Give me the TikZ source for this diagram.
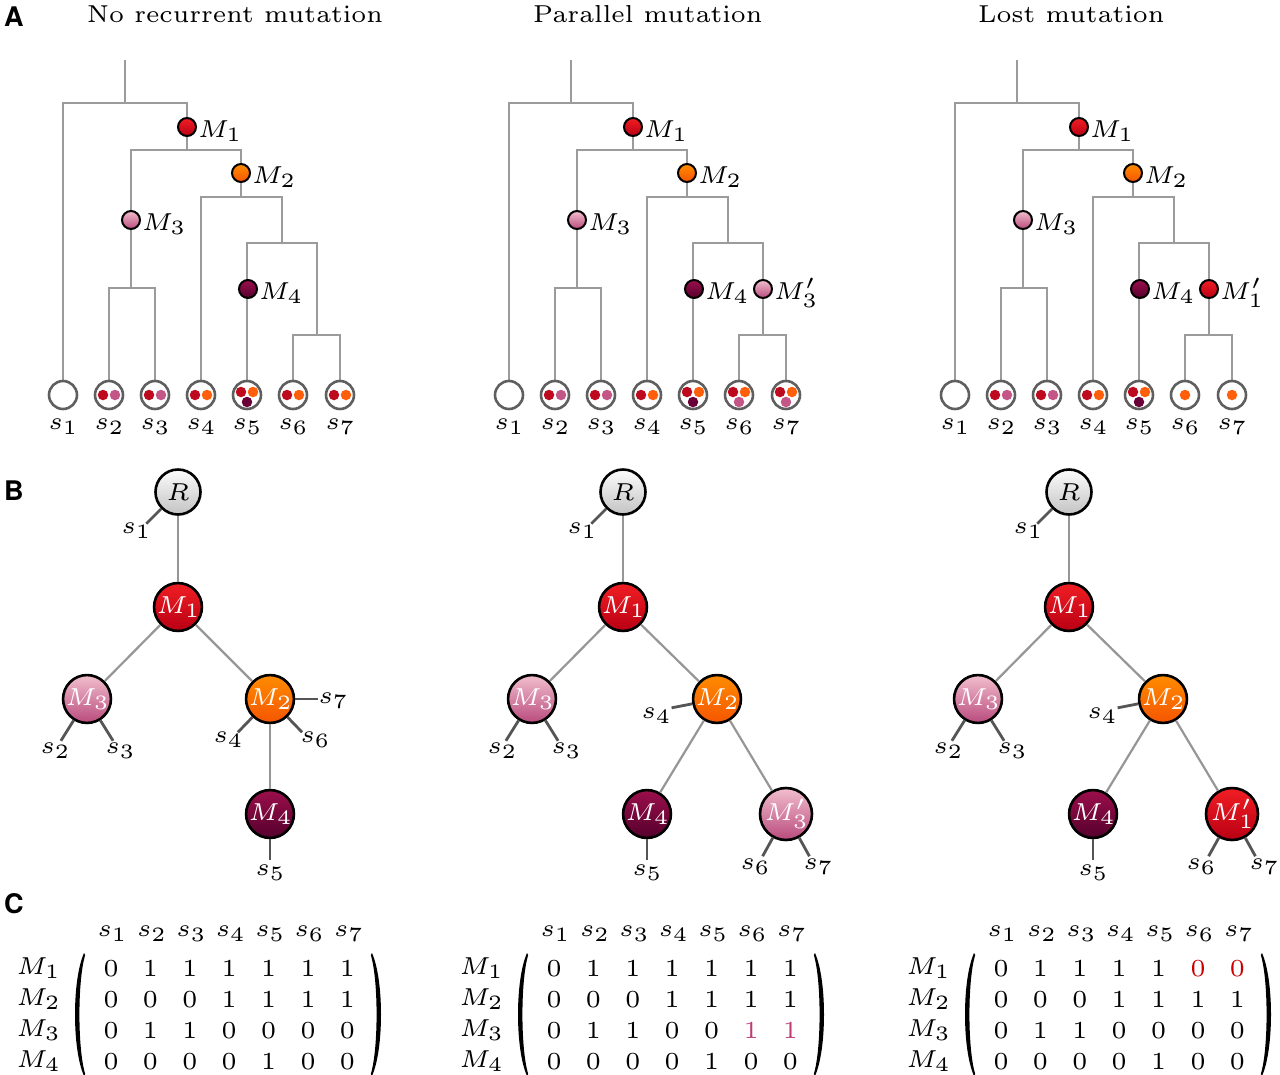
\documentclass[tikz,border=0pt]{standalone}
\usepackage[no-math]{fontspec}
\usepackage{amsmath}
\newfontfamily\lblfont{TeX Gyre Heros}
\DeclareFontFamily{OML}{xcmm}{\skewchar\font127 }
\DeclareFontShape{OML}{xcmm}{m}{it}{<-22>cmmi5 <22->cmmi6}{}
\DeclareFontFamily{OT1}{xcmr}{\hyphenchar\font45 }
\DeclareFontShape{OT1}{xcmr}{m}{n}{<-22>cmr5 <22->cmr6}{}
\DeclareFontFamily{OMS}{xcmsy}{\skewchar\font48 }
\DeclareFontShape{OMS}{xcmsy}{m}{n}{<-22>cmsy5 <22->cmsy6}{}
\DeclareSymbolFont{letters}{OML}{xcmm}{m}{it}
\DeclareSymbolFont{operators}{OT1}{xcmr}{m}{n}
\DeclareSymbolFont{symbols}{OMS}{xcmsy}{m}{n}
\DeclareMathSizes{24.5}{24.5}{20.4}{20.4}
\newcommand{\ttlfont}{\fontencoding{OT1}\fontfamily{xcmr}\fontsize{24.5}{29}\selectfont}
\usetikzlibrary{backgrounds}
\definecolor{tgray}{RGB}{155,155,155}
\definecolor{lgray}{RGB}{95,95,95}
\definecolor{egray}{RGB}{150,150,150}
\definecolor{dgray}{RGB}{85,85,85}
\definecolor{dRed}{RGB}{190,10,30}
\definecolor{dOrange}{RGB}{255,95,10}
\definecolor{dPink}{RGB}{195,85,135}
\definecolor{dMaroon}{RGB}{105,0,55}
\definecolor{mPink}{RGB}{190,60,120}
\definecolor{mRed}{RGB}{200,0,0}
\tikzset{
  every node/.style={font=\fontsize{24.5}{29}\selectfont, inner sep=0pt},
  tl/.style={draw=tgray, line width=2.4pt},
  leaf/.style={circle, draw=lgray, line width=2.6pt, fill=white, minimum size=28pt},
  sd/.style={circle, fill=#1, minimum size=10.5pt},
  md/.style={circle, draw=black, line width=2pt, minimum size=18pt},
  mlab/.style={anchor=west, xshift=1pt, yshift=-4pt},
  bn/.style={circle, draw=black, line width=2.6pt, minimum size=45pt, text=white},
  bedge/.style={draw=egray, line width=2.2pt},
  bleaf/.style={draw=dgray, line width=2.8pt},
  fRed/.style={top color={rgb,255:red,240;green,30;blue,35}, bottom color={rgb,255:red,185;green,0;blue,20}},
  fOrange/.style={top color={rgb,255:red,255;green,140;blue,0}, bottom color={rgb,255:red,245;green,85;blue,0}},
  fPink/.style={top color={rgb,255:red,242;green,190;blue,205}, bottom color={rgb,255:red,185;green,75;blue,125}},
  fMaroon/.style={top color={rgb,255:red,155;green,15;blue,75}, bottom color={rgb,255:red,85;green,0;blue,45}},
  fGray/.style={top color={rgb,255:red,252;green,252;blue,252}, bottom color={rgb,255:red,195;green,195;blue,195}},
  title/.style={anchor=base west, font=\ttlfont},
  plabel/.style={anchor=base west, font=\lblfont\bfseries\fontsize{27}{32}\selectfont},
  paren/.style={fill=black},
}
% tree of panel A: #1 x offset, #2 name prefix
\newcommand{\treeA}[2]{%
\begin{scope}[xshift=#1]
\foreach \i/\x in {1/63,2/109,3/155,4/201,5/247,6/293,7/340}{
  \node[leaf] (#2L\i) at (\x,-395) {};
  \node (#2s\i) at (\x,-426.5) {$s_{\i}$};
}
\node[md,fRed] (#2M1) at (187,-127) {};
\node[mlab] (#2t1) at (#2M1.east) {$M_1$};
\node[md,fOrange] (#2M2) at (241,-173) {};
\node[mlab] (#2t2) at (#2M2.east) {$M_2$};
\node[md,fPink] (#2M3) at (131,-220) {};
\node[mlab] (#2t3) at (#2M3.east) {$M_3$};
\node[md,fMaroon] (#2M4) at (248,-289) {};
\node[mlab] (#2t4) at (#2M4.east) {$M_4$};
\coordinate (#2top) at (125,-60);
\coordinate (#2j0) at (125,-103);
\begin{pgfonlayer}{background}
\draw[tl] (#2top) -- (#2j0);
\draw[tl] (#2L1.center) |- (187,-103) -- (187,-150);
\draw[tl] (#2L2.center) |- (155,-288) -- (#2L3.center);
\draw[tl] (131,-288) |- (241,-150) -- (241,-197);
\draw[tl] (#2L4.center) |- (282,-197) -- (282,-243);
\draw[tl] (#2L5.center) |- (317,-243) -- (317,-335);
\draw[tl] (#2L6.center) |- (340,-335) -- (#2L7.center);
\end{pgfonlayer}
\end{scope}}
\newcommand{\oned}[2]{\node[sd=#2] (#1-a) at (#1.center) {};}
\newcommand{\twod}[3]{\node[sd=#2] (#1-a) at ([xshift=-6pt]#1.center) {};\node[sd=#3] (#1-b) at ([xshift=6pt]#1.center) {};}
\newcommand{\thrd}[4]{\node[sd=#2] (#1-a) at ([xshift=-6pt,yshift=3pt]#1.center) {};\node[sd=#3] (#1-b) at ([xshift=6pt,yshift=3pt]#1.center) {};\node[sd=#4] (#1-c) at ([yshift=-7pt]#1.center) {};}
% matrix row: #1 offset, #2 prefix, #3 row, #4 entries
\newcommand{\mrow}[4]{%
\node (#2r#3) at (#1+38,{-968-31*(#3-1)}) {$M_{#3}$};
\foreach \v [count=\j] in {#4} {\node (#2e#3\j) at ({#1+111+39.4*(\j-1)},{-969-31*(#3-1)}) {$\v$};}}
% header and parentheses drawn as filled crescents
\newcommand{\mhead}[2]{%
\foreach \j in {1,...,7} {\node (#2h\j) at ({#1+112+39.4*(\j-1)},-934) {$s_{\j}$};}
\begin{scope}[xshift=#1]
\coordinate (#2lpt) at (84,-953);
\coordinate (#2lpb) at (84,-1076);
\fill[paren] (#2lpt) .. controls (72,-980) and (72,-1049) .. (#2lpb)
   -- (85.2,-1074) .. controls (77.5,-1049) and (77.5,-980) .. (85.2,-955) -- cycle;
\coordinate (#2rpt) at (372,-953);
\coordinate (#2rpb) at (372,-1076);
\fill[paren] (#2rpt) .. controls (384,-980) and (384,-1049) .. (#2rpb)
   -- (370.8,-1074) .. controls (378.5,-1049) and (378.5,-980) .. (370.8,-955) -- cycle;
\end{scope}}
\begin{document}
\begin{tikzpicture}[x=1pt,y=1pt]
\useasboundingbox (0,0) rectangle (1280,-1074);
% panel labels
\node[plabel] (lA) at (4,-26) {A};
\node[plabel] (lB) at (4,-500) {B};
\node[plabel] (lC) at (4,-913) {C};
% titles
\node[title] (tt1) at (87,-22) {No recurrent mutation};
\node[title] (tt2) at (533,-22) {Parallel mutation};
\node[title] (tt3) at (978,-22) {Lost mutation};
% ---------- A: trees
\treeA{0}{a}
\twod{aL2}{dRed}{dPink}\twod{aL3}{dRed}{dPink}\twod{aL4}{dRed}{dOrange}
\thrd{aL5}{dRed}{dOrange}{dMaroon}\twod{aL6}{dRed}{dOrange}\twod{aL7}{dRed}{dOrange}
\treeA{446}{b}
\node[md,fPink] (bM5) at (763,-289) {};
\node[mlab] (bt5) at (bM5.east) {$M_3'$};
\twod{bL2}{dRed}{dPink}\twod{bL3}{dRed}{dPink}\twod{bL4}{dRed}{dOrange}
\thrd{bL5}{dRed}{dOrange}{dMaroon}\thrd{bL6}{dRed}{dOrange}{dPink}\thrd{bL7}{dRed}{dOrange}{dPink}
\treeA{892}{c}
\node[md,fRed] (cM5) at (1209,-289) {};
\node[mlab] (ct5) at (cM5.east) {$M_1'$};
\twod{cL2}{dRed}{dPink}\twod{cL3}{dRed}{dPink}\twod{cL4}{dRed}{dOrange}
\thrd{cL5}{dRed}{dOrange}{dMaroon}\oned{cL6}{dOrange}\oned{cL7}{dOrange}
% ---------- B: mutation trees
% left
\node[bn,fGray,text=black] (pR) at (178,-492) {$R$};
\node[bn,fRed] (pM1) at (178,-607) {$M_1$};
\node[bn,fPink] (pM3) at (87,-699) {$M_3$};
\node[bn,fOrange] (pM2) at (270,-699) {$M_2$};
\node[bn,fMaroon] (pM4) at (270,-814) {$M_4$};
\draw[bedge] (pR) -- (pM1); \draw[bedge] (pM1) -- (pM3); \draw[bedge] (pM1) -- (pM2); \draw[bedge] (pM2) -- (pM4);
\node (ps1) at (136,-531) {$s_1$}; \draw[bleaf] (pR.225) -- ++(225:21);
\node (ps2) at (55,-751) {$s_2$}; \draw[bleaf] (pM3.238) -- ++(238:24);
\node (ps3) at (120,-751) {$s_3$}; \draw[bleaf] (pM3.302) -- ++(302:24);
\node (ps4) at (228,-740) {$s_4$}; \draw[bleaf] (pM2.226) -- ++(226:21);
\node (ps6) at (315,-740) {$s_6$}; \draw[bleaf] (pM2.314) -- ++(314:21);
\node (ps7) at (333,-701) {$s_7$}; \draw[bleaf] (pM2.0) -- ++(0:23);
\node (ps5) at (270,-873) {$s_5$}; \draw[bleaf] (pM4.270) -- ++(270:21);
% middle
\node[bn,fGray,text=black] (qR) at (623,-492) {$R$};
\node[bn,fRed] (qM1) at (623,-607) {$M_1$};
\node[bn,fPink] (qM3) at (532,-699) {$M_3$};
\node[bn,fOrange] (qM2) at (717,-699) {$M_2$};
\node[bn,fMaroon] (qM4) at (647,-814) {$M_4$};
\node[bn,fPink] (qM5) at (786,-814) {$M_3'$};
\draw[bedge] (qR) -- (qM1); \draw[bedge] (qM1) -- (qM3); \draw[bedge] (qM1) -- (qM2);
\draw[bedge] (qM2) -- (qM4); \draw[bedge] (qM2) -- (qM5);
\node (qs1) at (582,-531) {$s_1$}; \draw[bleaf] (qR.225) -- ++(225:21);
\node (qs2) at (502,-751) {$s_2$}; \draw[bleaf] (qM3.238) -- ++(238:24);
\node (qs3) at (566,-751) {$s_3$}; \draw[bleaf] (qM3.302) -- ++(302:24);
\node (qs4) at (656,-716) {$s_4$}; \draw[bleaf] (qM2.191) -- ++(191:21);
\node (qs5) at (647,-873) {$s_5$}; \draw[bleaf] (qM4.270) -- ++(270:21);
\node (qs6) at (755,-867) {$s_6$}; \draw[bleaf] (qM5.241) -- ++(241:21);
\node (qs7) at (818,-867) {$s_7$}; \draw[bleaf] (qM5.299) -- ++(299:21);
% right
\node[bn,fGray,text=black] (rR) at (1069,-492) {$R$};
\node[bn,fRed] (rM1) at (1069,-607) {$M_1$};
\node[bn,fPink] (rM3) at (978,-699) {$M_3$};
\node[bn,fOrange] (rM2) at (1163,-699) {$M_2$};
\node[bn,fMaroon] (rM4) at (1093,-814) {$M_4$};
\node[bn,fRed] (rM5) at (1232,-814) {$M_1'$};
\draw[bedge] (rR) -- (rM1); \draw[bedge] (rM1) -- (rM3); \draw[bedge] (rM1) -- (rM2);
\draw[bedge] (rM2) -- (rM4); \draw[bedge] (rM2) -- (rM5);
\node (rs1) at (1028,-531) {$s_1$}; \draw[bleaf] (rR.225) -- ++(225:21);
\node (rs2) at (948,-751) {$s_2$}; \draw[bleaf] (rM3.238) -- ++(238:24);
\node (rs3) at (1012,-751) {$s_3$}; \draw[bleaf] (rM3.302) -- ++(302:24);
\node (rs4) at (1102,-716) {$s_4$}; \draw[bleaf] (rM2.191) -- ++(191:21);
\node (rs5) at (1093,-873) {$s_5$}; \draw[bleaf] (rM4.270) -- ++(270:21);
\node (rs6) at (1201,-867) {$s_6$}; \draw[bleaf] (rM5.241) -- ++(241:21);
\node (rs7) at (1264,-867) {$s_7$}; \draw[bleaf] (rM5.299) -- ++(299:21);
% ---------- C: matrices
\mhead{0}{x}
\mrow{0}{x}{1}{0,1,1,1,1,1,1}
\mrow{0}{x}{2}{0,0,0,1,1,1,1}
\mrow{0}{x}{3}{0,1,1,0,0,0,0}
\mrow{0}{x}{4}{0,0,0,0,1,0,0}
\mhead{443}{y}
\mrow{443}{y}{1}{0,1,1,1,1,1,1}
\mrow{443}{y}{2}{0,0,0,1,1,1,1}
\mrow{443}{y}{3}{0,1,1,0,0,{\textcolor{mPink}{1}},{\textcolor{mPink}{1}}}
\mrow{443}{y}{4}{0,0,0,0,1,0,0}
\mhead{890}{z}
\mrow{890}{z}{1}{0,1,1,1,1,{\textcolor{mRed}{0}},{\textcolor{mRed}{0}}}
\mrow{890}{z}{2}{0,0,0,1,1,1,1}
\mrow{890}{z}{3}{0,1,1,0,0,0,0}
\mrow{890}{z}{4}{0,0,0,0,1,0,0}
\end{tikzpicture}
\end{document}
